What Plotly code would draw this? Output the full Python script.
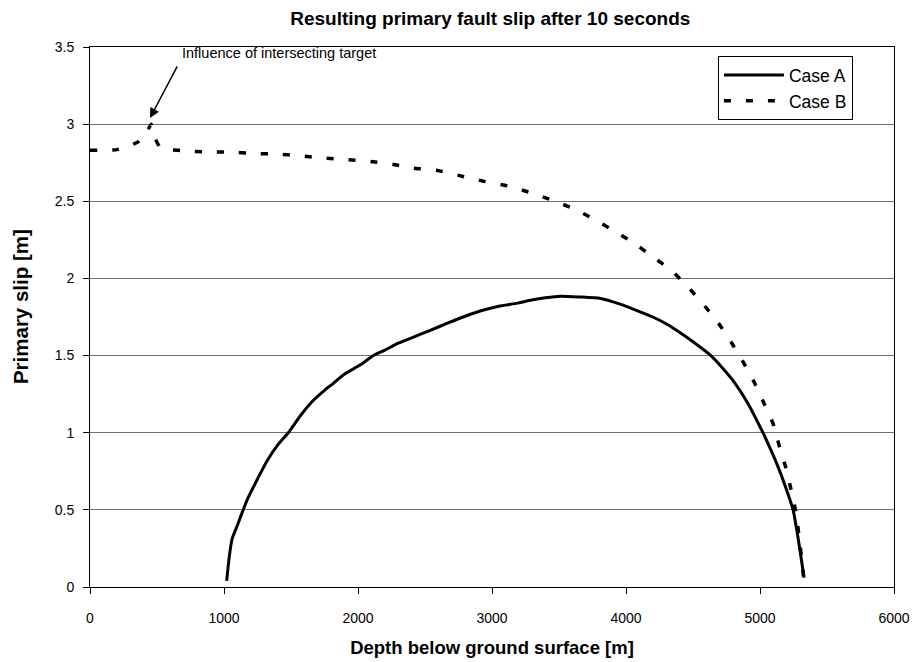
import plotly.graph_objects as go

# Case A: depth [m] and primary slip [m]
case_a_depth = [1020, 1040, 1060, 1100, 1143, 1175, 1250, 1323, 1400, 1480, 1570, 1667, 1750, 1816,
                1900, 2018, 2115, 2200, 2300, 2414, 2530, 2668, 2800, 2937, 3050, 3191, 3266, 3400,
                3513, 3650, 3811, 3950, 4058, 4200, 4312, 4410, 4500, 4634, 4720, 4806, 4910, 5022,
                5080, 5134, 5190, 5247, 5291, 5310, 5329]
case_a_slip = [0.04, 0.20, 0.31, 0.40, 0.50, 0.57, 0.70, 0.82, 0.92, 1.00, 1.11, 1.21, 1.275, 1.32,
               1.38, 1.44, 1.50, 1.535, 1.58, 1.62, 1.66, 1.71, 1.755, 1.795, 1.82, 1.84, 1.855, 1.875,
               1.885, 1.88, 1.87, 1.835, 1.80, 1.75, 1.70, 1.645, 1.59, 1.50, 1.42, 1.33, 1.19, 1.00,
               0.89, 0.78, 0.65, 0.50, 0.28, 0.17, 0.06]

# Case B
case_b_depth = [0, 200, 359, 420, 456, 490, 523, 600, 710, 874, 1046, 1218, 1398, 1570, 1741, 1906,
                2078, 2257, 2414, 2593, 2765, 2937, 3116, 3273, 3438, 3602, 3759, 3908, 4058, 4200,
                4342, 4462, 4574, 4686, 4783, 4873, 4955, 5030, 5097, 5142, 5194, 5232, 5269, 5295,
                5315, 5325]
case_b_slip = [2.83, 2.835, 2.885, 2.94, 3.0, 2.90, 2.85, 2.835, 2.826, 2.82, 2.82, 2.81, 2.806, 2.795,
               2.78, 2.77, 2.76, 2.74, 2.715, 2.70, 2.665, 2.63, 2.60, 2.56, 2.51, 2.455, 2.385, 2.31,
               2.23, 2.14, 2.05, 1.945, 1.835, 1.715, 1.59, 1.46, 1.33, 1.19, 1.06, 0.92, 0.77, 0.63,
               0.48, 0.30, 0.15, 0.06]

x_ticks = [0, 1000, 2000, 3000, 4000, 5000, 6000]
y_ticks = [0, 0.5, 1, 1.5, 2, 2.5, 3, 3.5]

FONT = "Arial, Liberation Sans, sans-serif"

fig = go.Figure()
fig.add_trace(go.Scatter(x=case_a_depth, y=case_a_slip, mode="lines", name="Case A",
                         line=dict(color="black", width=3, shape="spline", smoothing=0.6)))
fig.add_trace(go.Scatter(x=case_b_depth, y=case_b_slip, mode="lines", name="Case B",
                         line=dict(color="black", width=3.5, dash="7px,15px", shape="spline", smoothing=0.4)))

# arrow
fig.add_annotation(x=448, y=3.04, ax=28, ay=-53, text="", showarrow=True,
                   arrowhead=2, arrowsize=1.3, arrowwidth=1.5, arrowcolor="black")
fig.add_annotation(x=673, y=3.46, text="Influence of intersecting target", showarrow=False,
                   xanchor="left", yanchor="middle", font=dict(size=14.5, color="black", family=FONT))

# y-axis title
fig.add_annotation(xref="paper", yref="paper", x=-0.0872, y=0.520, text="<b>Primary slip [m]</b>",
                   textangle=-90, showarrow=False, xanchor="center", yanchor="middle",
                   font=dict(size=20.5, family=FONT, color="black"))

fig.update_layout(
    width=913, height=662,
    margin=dict(l=90, r=19, t=47, b=75),
    paper_bgcolor="white", plot_bgcolor="white",
    font=dict(family=FONT, color="black", size=14),
    title=dict(text="<b>Resulting primary fault slip after 10 seconds</b>", x=0.537, xanchor="center",
               y=0.973, yanchor="middle", font=dict(size=19, family=FONT, color="black")),
    legend=dict(x=0.781, y=0.983, xanchor="left", yanchor="top", bgcolor="white",
                bordercolor="black", borderwidth=1, font=dict(size=17.5, family=FONT),
                tracegroupgap=5, itemwidth=60),
    showlegend=True,
)
fig.update_xaxes(range=[0, 6000], tickvals=x_ticks, ticks="outside", ticklen=6, tickcolor="black",
                 showline=True, linecolor="black", linewidth=1, mirror=True, showgrid=False,
                 zeroline=False, tickfont=dict(size=14), automargin=False, ticklabelstandoff=12,
                 title=dict(text="<b>Depth below ground surface [m]</b>", font=dict(size=18.5), standoff=16))
fig.update_yaxes(range=[0, 3.5], tickvals=y_ticks, ticks="outside", ticklen=6, tickcolor="black",
                 showline=True, linecolor="black", linewidth=1, mirror=True, showgrid=True,
                 gridcolor="#6e6e6e", gridwidth=1, zeroline=False, tickfont=dict(size=14),
                 automargin=False, ticklabelstandoff=6)

fig.write_html("out.html")
